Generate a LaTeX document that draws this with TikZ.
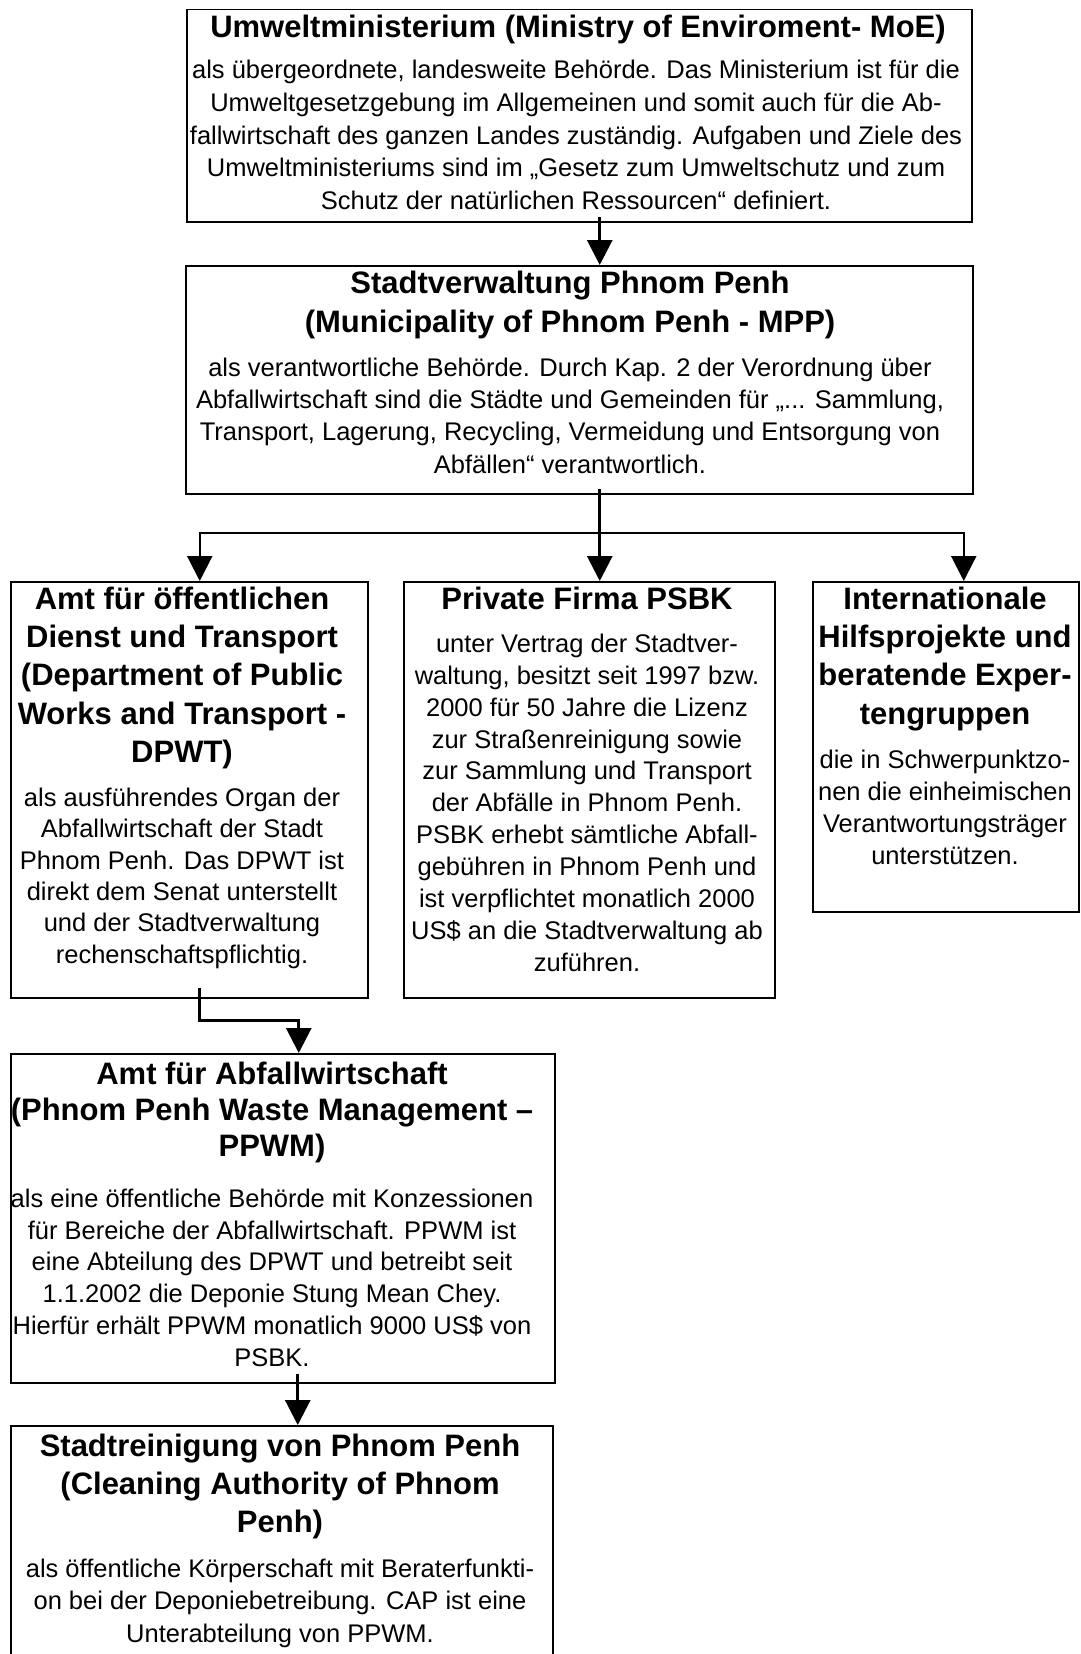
\documentclass[tikz,border=0pt]{standalone}
\usepackage{fontspec}
\setmainfont{Liberation Sans}
\usetikzlibrary{arrows.meta}
\newcommand{\topstrut}{\rule{0pt}{0.76em}}

\begin{document}
\begin{tikzpicture}[x=1pt, y=-1pt,
  box/.style={draw, line width=1.5pt, inner sep=0pt, anchor=north west},
  head/.style={anchor=north, align=center, inner sep=0pt, font=\fontsize{31}{38.3}\selectfont\bfseries},
  txt/.style={anchor=north, align=center, inner sep=0pt, font=\fontsize{25.5}{32}\selectfont},
  arr/.style={-{Triangle[length=25pt,width=25pt]}, line width=3pt},
  branch/.style={arr, line width=2.2pt}]
  \useasboundingbox (0,0) rectangle (1080,1654);

  % Ministry
  \node[box, minimum width=785pt, minimum height=212pt] (moe) at (186,9) {};
  \node[head] (moeHead) at (578,13.8) {\topstrut Umweltministerium (Ministry of Enviroment- MoE)};
  \node[txt, font=\fontsize{25.5}{32.6}\selectfont] (moeText) at (576,59.4) {\topstrut als übergeordnete, landesweite Behörde. Das Ministerium ist für die\\
    Umweltgesetzgebung im Allgemeinen und somit auch für die Ab-\\
    fallwirtschaft des ganzen Landes zuständig. Aufgaben und Ziele des\\
    Umweltministeriums sind im „Gesetz zum Umweltschutz und zum\\
    Schutz der natürlichen Ressourcen“ definiert.};

  % Municipality
  \node[box, minimum width=787pt, minimum height=228pt] (mpp) at (185,265) {};
  \node[head, font=\fontsize{31}{39}\selectfont\bfseries] (mppHead) at (570,270) {\topstrut Stadtverwaltung Phnom Penh\\(Municipality of Phnom Penh - MPP)};
  \node[txt, font=\fontsize{25.5}{32.3}\selectfont] (mppText) at (570,356.8) {\topstrut als verantwortliche Behörde. Durch Kap. 2 der Verordnung über\\
    Abfallwirtschaft sind die Städte und Gemeinden für „... Sammlung,\\
    Transport, Lagerung, Recycling, Vermeidung und Entsorgung von\\
    Abfällen“ verantwortlich.};

  % Second row
  \node[box, minimum width=357pt, minimum height=416pt] (dpwt) at (10,581) {};
  \node[head] (dpwtHead) at (182,585.4) {\topstrut Amt für öffentlichen\\Dienst und Transport\\(Department of Public\\Works and Transport -\\DPWT)};
  \node[txt, font=\fontsize{25.5}{31.4}\selectfont] (dpwtText) at (182,786.8) {\topstrut als ausführendes Organ der\\
    Abfallwirtschaft der Stadt\\
    Phnom Penh. Das DPWT ist\\
    direkt dem Senat unterstellt\\
    und der Stadtverwaltung\\
    rechenschaftspflichtig.};

  \node[box, minimum width=371pt, minimum height=416pt] (psbk) at (403,581) {};
  \node[head] (psbkHead) at (587,585.4) {\topstrut Private Firma PSBK};
  \node[txt, font=\fontsize{25.5}{31.9}\selectfont] (psbkText) at (587,632.8) {\topstrut unter Vertrag der Stadtver-\\
    waltung, besitzt seit 1997 bzw.\\
    2000 für 50 Jahre die Lizenz\\
    zur Straßenreinigung sowie\\
    zur Sammlung und Transport\\
    der Abfälle in Phnom Penh.\\
    PSBK erhebt sämtliche Abfall-\\
    gebühren in Phnom Penh und\\
    ist verpflichtet monatlich 2000\\
    US\$ an die Stadtverwaltung ab\\
    zuführen.};

  \node[box, minimum width=266pt, minimum height=330pt] (hilfe) at (812,581) {};
  \node[head] (hilfeHead) at (945,585.4) {\topstrut Internationale\\Hilfsprojekte und\\beratende Exper-\\tengruppen};
  \node[txt, font=\fontsize{25.5}{32.2}\selectfont] (hilfeText) at (945,748.8) {\topstrut die in Schwerpunktzo-\\
    nen die einheimischen\\
    Verantwortungsträger\\
    unterstützen.};

  % Waste management
  \node[box, minimum width=544pt, minimum height=329pt] (ppwm) at (10,1053) {};
  \node[head, font=\fontsize{31}{36}\selectfont\bfseries] (ppwmHead) at (272,1060.4) {\topstrut Amt für Abfallwirtschaft\\(Phnom Penh Waste Management –\\PPWM)};
  \node[txt, font=\fontsize{25.5}{31.8}\selectfont] (ppwmText) at (272,1187.8) {\topstrut als eine öffentliche Behörde mit Konzessionen\\
    für Bereiche der Abfallwirtschaft. PPWM ist\\
    eine Abteilung des DPWT und betreibt seit\\
    1.1.2002 die Deponie Stung Mean Chey.\\
    Hierfür erhält PPWM monatlich 9000 US\$ von\\
    PSBK.};

  % Cleaning authority
  \node[box, minimum width=542pt, minimum height=260pt] (cap) at (10,1425) {};
  \node[head] (capHead) at (280,1432.4) {\topstrut Stadtreinigung von Phnom Penh\\(Cleaning Authority of Phnom\\Penh)};
  \node[txt, font=\fontsize{25.5}{32.5}\selectfont] (capText) at (280,1557.8) {\topstrut als öffentliche Körperschaft mit Beraterfunkti-\\
    on bei der Deponiebetreibung. CAP ist eine\\
    Unterabteilung von PPWM.};

  % Connectors
  \coordinate (fork) at (599,533);
  \draw[arr] ([xshift=20.5pt,yshift=6pt]moe.south) -- ([xshift=20.5pt]mpp.north);
  \draw[arr] ([xshift=20.5pt,yshift=6pt]mpp.south) -- ([xshift=10.5pt]psbk.north);
  \draw[branch] (fork) -| ([xshift=10.5pt]dpwt.north);
  \draw[branch] (fork) -| ([xshift=18pt]hilfe.north);
  \draw[arr] ([xshift=10.5pt,yshift=11pt]dpwt.south) -- ++(0,33) -| ([xshift=16pt]ppwm.north);
  \draw[arr] ([xshift=15pt,yshift=10pt]ppwm.south) -- ([xshift=16pt]cap.north);
\end{tikzpicture}
\end{document}
